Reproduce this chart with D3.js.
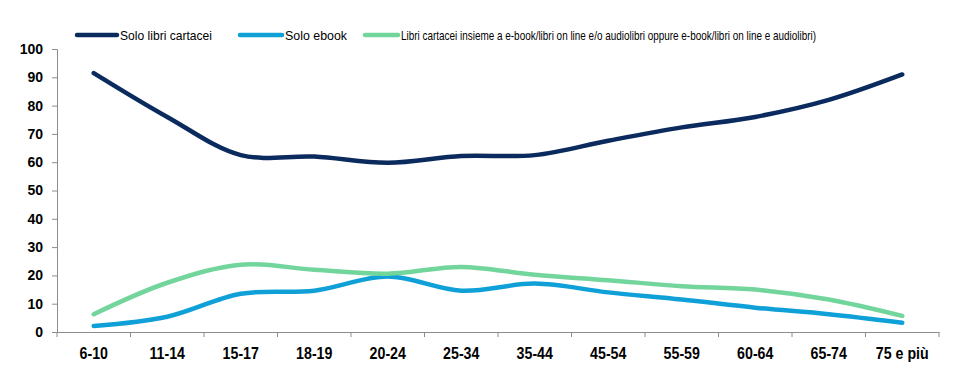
<!DOCTYPE html>
<html>
<head>
  <meta charset="utf-8">
  <title>Lettori per età</title>
  <script src="https://d3js.org/d3.v7.min.js"></script>
  <style>
    body { margin: 0; background: #fff; }
    .tick text { font-family: "Liberation Sans", Arial, sans-serif; font-weight: bold; fill: #000; }
    .x-axis .tick text { font-size: 16.5px; }
    .y-axis .tick text { font-size: 14px; }
    .legend text { font-family: "Liberation Sans", Arial, sans-serif; font-size: 13.5px; fill: #000; }
  </style>
</head>
<body>
  <script>
    // dati
    var categories = ["6-10", "11-14", "15-17", "18-19", "20-24", "25-34", "35-44", "45-54", "55-59", "60-64", "65-74", "75 e più"];
    var soloCartacei = [91.5, 76, 62.5, 62, 59.8, 62.2, 62.5, 67.6, 72.3, 76, 82, 91];
    var soloEbook = [2.1, 5.4, 13.5, 14.6, 19.6, 14.6, 17.1, 14, 11.5, 8.6, 6.3, 3.3];
    var entrambi = [6.3, 17.4, 23.8, 22, 20.6, 23, 20.2, 18.3, 16.2, 15, 11.5, 5.7];
    var yTicks = [0, 10, 20, 30, 40, 50, 60, 70, 80, 90, 100];

    var seriesNames = [
      "Solo libri cartacei",
      "Solo ebook",
      "Libri cartacei insieme a e-book/libri on line e/o audiolibri oppure e-book/libri on line e audiolibri)"
    ];
    var seriesValues = [soloCartacei, soloEbook, entrambi];
    var colors = ["#0b2a5e", "#0fa0d8", "#72d59c"];

    var width = 966, height = 376;
    var margin = { top: 49, right: 27, bottom: 44, left: 57 };

    var svg = d3.select("body").append("svg").attr("width", width).attr("height", height);

    var x = d3.scaleBand()
      .domain(categories)
      .range([margin.left, width - margin.right]);

    var y = d3.scaleLinear()
      .domain([0, 100])
      .range([height - margin.bottom, margin.top]);

    // assi
    var xAxis = svg.append("g")
      .attr("class", "x-axis")
      .attr("transform", "translate(0," + (height - margin.bottom) + ")")
      .call(d3.axisBottom(x).tickSize(0).tickPadding(15));
    xAxis.select(".domain").attr("stroke", "#8c8c8c");
    // font stretto: comprimo le etichette
    xAxis.selectAll(".tick text").each(function () {
      var w = this.getComputedTextLength();
      d3.select(this).attr("textLength", w * 0.86).attr("lengthAdjust", "spacingAndGlyphs");
    });
    // tick tra le categorie
    xAxis.selectAll(".sep")
      .data(d3.range(categories.length + 1))
      .enter().append("line")
      .attr("class", "sep")
      .attr("x1", function (i) { return margin.left + i * x.step(); })
      .attr("x2", function (i) { return margin.left + i * x.step(); })
      .attr("y1", 0).attr("y2", 5)
      .attr("stroke", "#8c8c8c");

    var yAxis = svg.append("g")
      .attr("class", "y-axis")
      .attr("transform", "translate(" + margin.left + ",0)")
      .call(d3.axisLeft(y).tickValues(yTicks).tickSize(5).tickPadding(9));
    yAxis.selectAll("line, .domain").attr("stroke", "#8c8c8c");

    // linee
    var line = d3.line()
      .x(function (d, i) { return x(categories[i]) + x.bandwidth() / 2; })
      .y(function (d) { return y(d); })
      .curve(d3.curveCatmullRom.alpha(0.5));

    svg.append("g").selectAll("path")
      .data(seriesValues)
      .enter().append("path")
      .attr("d", line)
      .attr("fill", "none")
      .attr("stroke", function (d, i) { return colors[i]; })
      .attr("stroke-width", 4.5)
      .attr("stroke-linecap", "round");

    // legenda
    var legendX = [77, 240, 365];
    var legendLen = [40, 42, 33];
    var legendText = [92, 62, 415];
    var legend = svg.append("g").attr("class", "legend");
    seriesNames.forEach(function (name, i) {
      legend.append("line")
        .attr("x1", legendX[i]).attr("x2", legendX[i] + legendLen[i])
        .attr("y1", 35).attr("y2", 35)
        .attr("stroke", colors[i]).attr("stroke-width", 4.5)
        .attr("stroke-linecap", "round");
      legend.append("text")
        .attr("x", legendX[i] + legendLen[i] + 3)
        .attr("y", 40)
        .attr("textLength", legendText[i])
        .attr("lengthAdjust", "spacingAndGlyphs")
        .text(name);
    });
  </script>
</body>
</html>
